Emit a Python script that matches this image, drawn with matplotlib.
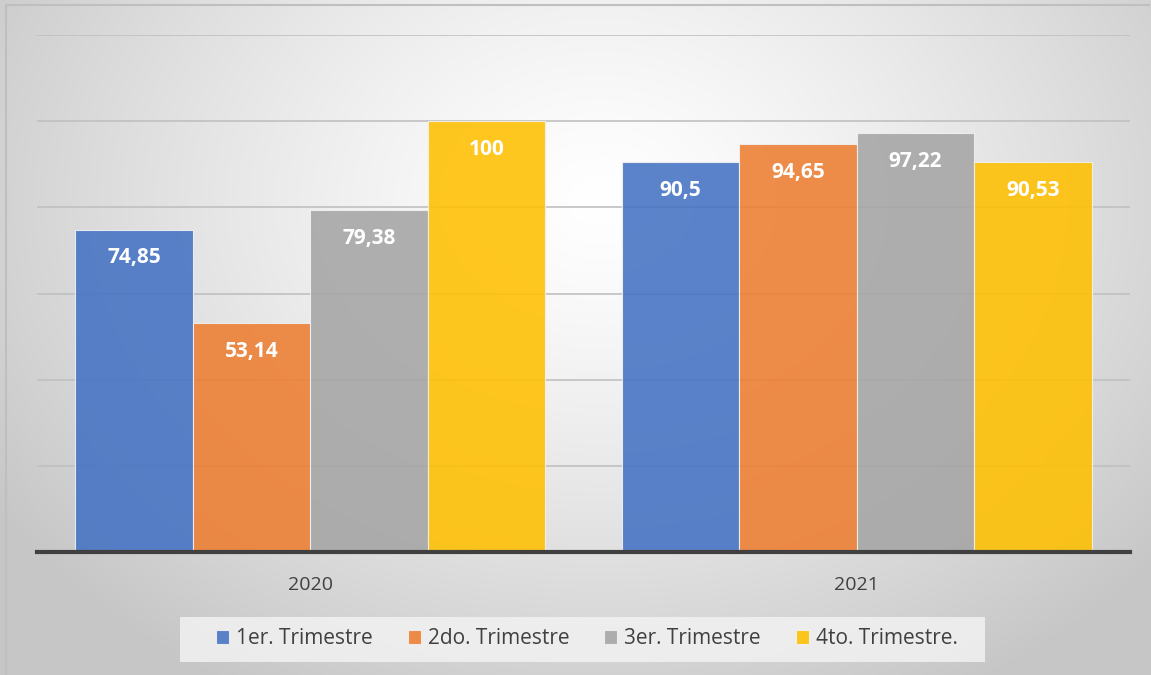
import matplotlib.pyplot as plt
import matplotlib.patches as mpatches
import numpy as np

# data
years = ['2020', '2021']
series = ['1er. Trimestre', '2do. Trimestre', '3er. Trimestre', '4to. Trimestre.']
q1 = [74.85, 90.5]
q2 = [53.14, 94.65]
q3 = [79.38, 97.22]
q4 = [100, 90.53]
labels = [['74,85', '90,5'], ['53,14', '94,65'], ['79,38', '97,22'], ['100', '90,53']]
colors = ['#4472c4', '#ed7d31', '#a5a5a5', '#ffc000']

W, H = 1151, 675
fig = plt.figure(figsize=(W / 100, H / 100), dpi=100)

# radial gradient background
bg = fig.add_axes([0, 0, 1, 1])
yy, xx = np.mgrid[0:H, 0:W]
r = np.sqrt(((xx - 600) / 720.0) ** 2 + ((yy - 200) / 560.0) ** 2)
r = np.clip(r, 0, 1)
shade = 1.0 - 0.22 * r ** 1.3
bg.imshow(np.dstack([shade, shade, shade]), extent=[0, W, H, 0], aspect='auto')
bg.plot([6, 6, W - 2], [H, 5, 5], color='#bfbfbf', lw=1.5)
# legend box
bg.add_patch(mpatches.Rectangle((180, 617), 805, 45, facecolor='#f2f2f2',
                                edgecolor='none', alpha=0.85))
bg.set_xlim(0, W)
bg.set_ylim(H, 0)
bg.axis('off')

ax = fig.add_axes([37 / W, 123 / H, 1093 / W, 517 / H])
ax.patch.set_alpha(0)
x = np.arange(len(years))
width = 0.215
all_vals = [q1, q2, q3, q4]
for i, vals in enumerate(all_vals):
    pos = x + (i - 1.5) * width
    ax.bar(pos, vals, width, color=colors[i], alpha=0.88, edgecolor='#f2f2f2',
           linewidth=0.8, label=series[i], zorder=3)
    for j, v in enumerate(vals):
        ax.text(pos[j], v - 6.6, labels[i][j], ha='center', va='center',
                color='white', fontsize=15, fontweight='bold', family='Open Sans', zorder=4)

ax.set_xlim(-0.5, 1.5)
ax.set_ylim(0, 120)
ax.set_yticks(np.arange(0, 121, 20))
ax.yaxis.grid(True, color='#c0c0c0', lw=1.2, zorder=1)
ax.tick_params(axis='y', length=0, labelleft=False)
ax.tick_params(axis='x', length=0, pad=17, labelsize=14, labelcolor='#404040')
ax.set_xticks(x)
ax.set_xticklabels(years, family='Open Sans')
for s in ['left', 'right', 'top']:
    ax.spines[s].set_visible(False)
ax.spines['bottom'].set_color('#404040')
ax.spines['bottom'].set_linewidth(3)
ax.spines['bottom'].set_zorder(5)

leg = fig.legend(loc='center', bbox_to_anchor=(587 / W, 1 - 639 / H), ncol=4,
                 frameon=False, prop={'family': 'Open Sans', 'size': 15},
                 handlelength=0.625, handleheight=0.625, handletextpad=0.34,
                 columnspacing=1.67, labelcolor='#404040')

fig.savefig('out.png', dpi=100)
